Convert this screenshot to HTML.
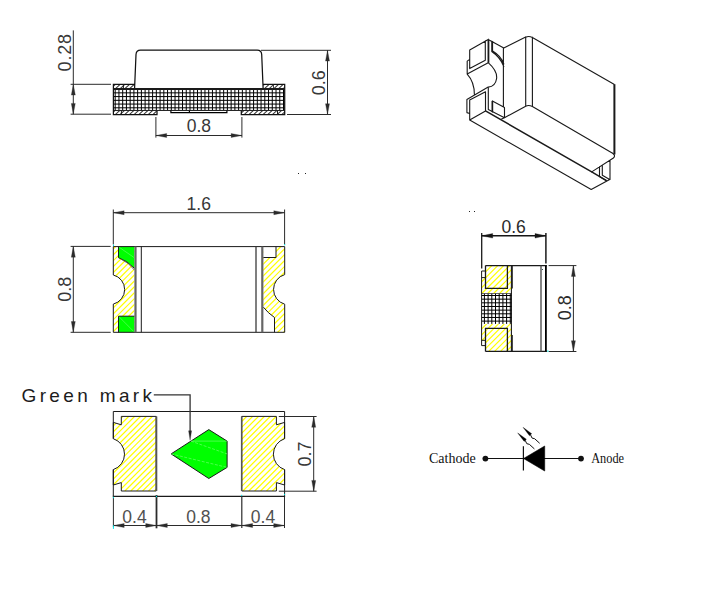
<!DOCTYPE html>
<html><head><meta charset="utf-8"><title>LED package drawing</title>
<style>
html,body{margin:0;padding:0;background:#fff;}
body{width:707px;height:594px;overflow:hidden;font-family:"Liberation Sans",sans-serif;}
svg{display:block}
</style></head><body>
<svg width="707" height="594" viewBox="0 0 707 594">
<rect width="707" height="594" fill="#fff"/>
<clipPath id="c1"><rect x="113.4" y="88.5" width="171.0" height="21.9"/></clipPath>
<path clip-path="url(#c1)" d="M115.20,88.5 L115.20,110.4 M118.94,88.5 L118.94,110.4 M122.68,88.5 L122.68,110.4 M126.42,88.5 L126.42,110.4 M130.16,88.5 L130.16,110.4 M133.90,88.5 L133.90,110.4 M137.64,88.5 L137.64,110.4 M141.38,88.5 L141.38,110.4 M145.12,88.5 L145.12,110.4 M148.86,88.5 L148.86,110.4 M152.60,88.5 L152.60,110.4 M156.34,88.5 L156.34,110.4 M160.08,88.5 L160.08,110.4 M163.82,88.5 L163.82,110.4 M167.56,88.5 L167.56,110.4 M171.30,88.5 L171.30,110.4 M175.04,88.5 L175.04,110.4 M178.78,88.5 L178.78,110.4 M182.52,88.5 L182.52,110.4 M186.26,88.5 L186.26,110.4 M190.00,88.5 L190.00,110.4 M193.74,88.5 L193.74,110.4 M197.48,88.5 L197.48,110.4 M201.22,88.5 L201.22,110.4 M204.96,88.5 L204.96,110.4 M208.70,88.5 L208.70,110.4 M212.44,88.5 L212.44,110.4 M216.18,88.5 L216.18,110.4 M219.92,88.5 L219.92,110.4 M223.66,88.5 L223.66,110.4 M227.40,88.5 L227.40,110.4 M231.14,88.5 L231.14,110.4 M234.88,88.5 L234.88,110.4 M238.62,88.5 L238.62,110.4 M242.36,88.5 L242.36,110.4 M246.10,88.5 L246.10,110.4 M249.84,88.5 L249.84,110.4 M253.58,88.5 L253.58,110.4 M257.32,88.5 L257.32,110.4 M261.06,88.5 L261.06,110.4 M264.80,88.5 L264.80,110.4 M268.54,88.5 L268.54,110.4 M272.28,88.5 L272.28,110.4 M276.02,88.5 L276.02,110.4 M279.76,88.5 L279.76,110.4 M283.50,88.5 L283.50,110.4 M113.4,92.85 L284.4,92.85 M113.4,96.59 L284.4,96.59 M113.4,100.33 L284.4,100.33 M113.4,104.07 L284.4,104.07 M113.4,107.81 L284.4,107.81" stroke="#000" stroke-width="1.0" fill="none"/>
<clipPath id="c2"><rect x="113.4" y="84.4" width="21.2" height="4.0"/></clipPath>
<path clip-path="url(#c2)" d="M105.80,88.90 L111.30,83.90 M110.50,88.90 L116.00,83.90 M115.20,88.90 L120.70,83.90 M119.90,88.90 L125.40,83.90 M124.60,88.90 L130.10,83.90 M129.30,88.90 L134.80,83.90 M134.00,88.90 L139.50,83.90 M138.70,88.90 L144.20,83.90" stroke="#3a3a3a" stroke-width="1.05" fill="none"/>
<clipPath id="c3"><rect x="263.4" y="84.4" width="21.5" height="4.0"/></clipPath>
<path clip-path="url(#c3)" d="M254.80,88.90 L260.30,83.90 M259.50,88.90 L265.00,83.90 M264.20,88.90 L269.70,83.90 M268.90,88.90 L274.40,83.90 M273.60,88.90 L279.10,83.90 M278.30,88.90 L283.80,83.90 M283.00,88.90 L288.50,83.90 M287.70,88.90 L293.20,83.90" stroke="#3a3a3a" stroke-width="1.05" fill="none"/>
<clipPath id="c4"><rect x="113.4" y="110.6" width="43.5" height="4.0"/></clipPath>
<path clip-path="url(#c4)" d="M105.30,115.10 L110.80,110.10 M110.00,115.10 L115.50,110.10 M114.70,115.10 L120.20,110.10 M119.40,115.10 L124.90,110.10 M124.10,115.10 L129.60,110.10 M128.80,115.10 L134.30,110.10 M133.50,115.10 L139.00,110.10 M138.20,115.10 L143.70,110.10 M142.90,115.10 L148.40,110.10 M147.60,115.10 L153.10,110.10 M152.30,115.10 L157.80,110.10 M157.00,115.10 L162.50,110.10" stroke="#3a3a3a" stroke-width="1.05" fill="none"/>
<clipPath id="c5"><rect x="241.3" y="110.6" width="43.6" height="4.0"/></clipPath>
<path clip-path="url(#c5)" d="M234.20,115.10 L239.70,110.10 M238.90,115.10 L244.40,110.10 M243.60,115.10 L249.10,110.10 M248.30,115.10 L253.80,110.10 M253.00,115.10 L258.50,110.10 M257.70,115.10 L263.20,110.10 M262.40,115.10 L267.90,110.10 M267.10,115.10 L272.60,110.10 M271.80,115.10 L277.30,110.10 M276.50,115.10 L282.00,110.10 M281.20,115.10 L286.70,110.10 M285.90,115.10 L291.40,110.10" stroke="#3a3a3a" stroke-width="1.05" fill="none"/>
<path d="M135,84.3 L113.4,84.3 L113.4,114.5 L157,114.5 L157,110.4" fill="none" stroke="#111" stroke-width="1.25" />
<path d="M263,84.3 L284.7,84.3 L284.7,114.5 L241.3,114.5 L241.3,110.4" fill="none" stroke="#111" stroke-width="1.25" />
<line x1="113.4" y1="89.0" x2="284.9" y2="89.0" stroke="#1a1a1a" stroke-width="1.8" />
<line x1="113.4" y1="110.45" x2="284.9" y2="110.45" stroke="#1a1a1a" stroke-width="1.0" />
<line x1="121.4" y1="110.4" x2="121.4" y2="114.5" stroke="#1a1a1a" stroke-width="1.0" />
<line x1="277.5" y1="110.4" x2="277.5" y2="114.5" stroke="#1a1a1a" stroke-width="1.0" />
<line x1="123.4" y1="84.3" x2="123.4" y2="88.5" stroke="#1a1a1a" stroke-width="1.0" />
<line x1="273.5" y1="84.3" x2="273.5" y2="88.5" stroke="#1a1a1a" stroke-width="0.8" />
<path d="M170.9,110.6 L170.9,112.6 L226.9,112.6 L226.9,110.6 M189.4,110.8 L189.4,112.6" fill="none" stroke="#000" stroke-width="1.2" />
<path d="M134.6,88 L136,54.5 Q136.3,50.2 140.5,50.2 L257.2,50.2 Q261.4,50.2 261.7,54.5 L263.1,88" fill="none" stroke="#111" stroke-width="1.25" />
<line x1="261" y1="50.3" x2="331" y2="50.3" stroke="#2b2b2b" stroke-width="1.0" />
<line x1="287" y1="114.5" x2="331" y2="114.5" stroke="#2b2b2b" stroke-width="1.0" />
<line x1="327.5" y1="50.3" x2="327.5" y2="114.5" stroke="#2b2b2b" stroke-width="1.0" />
<polygon points="327.50,50.30 329.50,61.10 325.50,61.10" fill="#2b2b2b" stroke="#2b2b2b" stroke-width="0.3"/>
<polygon points="327.50,114.50 325.50,103.70 329.50,103.70" fill="#2b2b2b" stroke="#2b2b2b" stroke-width="0.3"/>
<text transform="translate(324.5,95.3) rotate(-90)" x="0" y="0" font-family="'Liberation Sans', sans-serif" font-size="18" fill="#383838">0.6</text>
<line x1="70.6" y1="84.3" x2="111" y2="84.3" stroke="#2b2b2b" stroke-width="1.0" />
<line x1="70.6" y1="114.2" x2="111" y2="114.2" stroke="#2b2b2b" stroke-width="1.0" />
<line x1="73.3" y1="30.4" x2="73.3" y2="114.2" stroke="#2b2b2b" stroke-width="1.0" />
<polygon points="73.30,84.30 75.30,95.10 71.30,95.10" fill="#2b2b2b" stroke="#2b2b2b" stroke-width="0.3"/>
<polygon points="73.30,114.20 71.30,103.40 75.30,103.40" fill="#2b2b2b" stroke="#2b2b2b" stroke-width="0.3"/>
<text transform="translate(71.3,71.4) rotate(-90)" x="0" y="0" font-family="'Liberation Sans', sans-serif" font-size="18" fill="#383838" textLength="37.5" lengthAdjust="spacing">0.28</text>
<line x1="155.9" y1="117" x2="155.9" y2="137.6" stroke="#2b2b2b" stroke-width="1.0" />
<line x1="241.9" y1="117" x2="241.9" y2="137.6" stroke="#2b2b2b" stroke-width="1.0" />
<line x1="155.9" y1="135.5" x2="241.9" y2="135.5" stroke="#2b2b2b" stroke-width="1.0" />
<polygon points="155.90,135.50 166.70,133.50 166.70,137.50" fill="#2b2b2b" stroke="#2b2b2b" stroke-width="0.3"/>
<polygon points="241.90,135.50 231.10,137.50 231.10,133.50" fill="#2b2b2b" stroke="#2b2b2b" stroke-width="0.3"/>
<text x="186.7" y="132.0" font-family="'Liberation Sans', sans-serif" font-size="17.5" fill="#383838">0.8</text>
<clipPath id="c6"><path d="M113.3,246.6 L134.4,246.6 L134.4,332.3 L113.3,332.3 L113.3,304.1 A15,15 0 0 0 113.3,275 Z"/></clipPath>
<path clip-path="url(#c6)" d="M23.30,333.00 L110.30,246.00 M29.20,333.00 L116.20,246.00 M35.10,333.00 L122.10,246.00 M41.00,333.00 L128.00,246.00 M46.90,333.00 L133.90,246.00 M52.80,333.00 L139.80,246.00 M58.70,333.00 L145.70,246.00 M64.60,333.00 L151.60,246.00 M70.50,333.00 L157.50,246.00 M76.40,333.00 L163.40,246.00 M82.30,333.00 L169.30,246.00 M88.20,333.00 L175.20,246.00 M94.10,333.00 L181.10,246.00 M100.00,333.00 L187.00,246.00 M105.90,333.00 L192.90,246.00 M111.80,333.00 L198.80,246.00 M117.70,333.00 L204.70,246.00 M123.60,333.00 L210.60,246.00 M129.50,333.00 L216.50,246.00 M135.40,333.00 L222.40,246.00" stroke="#ffff00" stroke-width="1.22" fill="none"/>
<path d="M118.5,246.6 L134.4,246.6 L134.4,268.3 Q127,260.5 118.5,257.7 Z" fill="#00ff00" stroke="none" stroke-width="0" />
<path d="M118.5,316.2 L134.4,316.2 L134.4,332.3 L118.5,332.3 Z" fill="#00ff00" stroke="none" stroke-width="0" />
<path d="M119,247.1 L134,257.5 M119,316.7 L134,331.8" fill="none" stroke="#6dff6d" stroke-width="0.6" />
<path d="M118.5,246.6 L118.5,257.7 Q127,260.5 134.4,268.3" fill="none" stroke="#1a1a1a" stroke-width="1.0" />
<path d="M121.5,259.4 Q128.5,262.5 134.4,270" fill="none" stroke="#555" stroke-width="0.8" />
<path d="M118.5,332.3 L118.5,316.2 L134.4,316.2" fill="none" stroke="#1a1a1a" stroke-width="1.0" />
<clipPath id="c7"><path d="M263.3,246.6 L284.7,246.6 L284.7,274.6 A15.4,15.4 0 0 0 284.7,304.2 L284.7,332.3 L274.5,332.3 L274.5,317.5 Q268,313 263.3,307.1 Z"/></clipPath>
<path clip-path="url(#c7)" d="M170.80,333.00 L257.80,246.00 M176.70,333.00 L263.70,246.00 M182.60,333.00 L269.60,246.00 M188.50,333.00 L275.50,246.00 M194.40,333.00 L281.40,246.00 M200.30,333.00 L287.30,246.00 M206.20,333.00 L293.20,246.00 M212.10,333.00 L299.10,246.00 M218.00,333.00 L305.00,246.00 M223.90,333.00 L310.90,246.00 M229.80,333.00 L316.80,246.00 M235.70,333.00 L322.70,246.00 M241.60,333.00 L328.60,246.00 M247.50,333.00 L334.50,246.00 M253.40,333.00 L340.40,246.00 M259.30,333.00 L346.30,246.00 M265.20,333.00 L352.20,246.00 M271.10,333.00 L358.10,246.00 M277.00,333.00 L364.00,246.00 M282.90,333.00 L369.90,246.00 M288.80,333.00 L375.80,246.00" stroke="#ffff00" stroke-width="1.22" fill="none"/>
<rect x="263.3" y="246.6" width="12.7" height="10.9" fill="#fff"/>
<path d="M263.3,257.5 L276,257.5 L276,246.6" fill="none" stroke="#1a1a1a" stroke-width="1.0" />
<path d="M263.3,307.1 Q268,313 274.5,317.5 L274.5,332.3" fill="none" stroke="#1a1a1a" stroke-width="1.0" />
<path d="M113.3,275 L113.3,246.6 L284.7,246.6 L284.7,274.6 A15.4,15.4 0 0 0 284.7,304.2 L284.7,332.3 L113.3,332.3 L113.3,304.1 A15,15 0 0 0 113.3,275" fill="none" stroke="#1a1a1a" stroke-width="1.0" />
<line x1="135.5" y1="246.6" x2="135.5" y2="332.3" stroke="#666" stroke-width="2.2" />
<line x1="141.3" y1="246.6" x2="141.3" y2="332.3" stroke="#1a1a1a" stroke-width="1.0" />
<line x1="256" y1="246.6" x2="256" y2="332.3" stroke="#333" stroke-width="1.25" />
<line x1="262.3" y1="246.6" x2="262.3" y2="332.3" stroke="#666" stroke-width="2.2" />
<line x1="70.6" y1="246.4" x2="110.7" y2="246.4" stroke="#2b2b2b" stroke-width="1.0" />
<line x1="70.6" y1="332.3" x2="110.7" y2="332.3" stroke="#2b2b2b" stroke-width="1.0" />
<line x1="73.3" y1="246.4" x2="73.3" y2="332.3" stroke="#2b2b2b" stroke-width="1.0" />
<polygon points="73.30,246.40 75.30,257.20 71.30,257.20" fill="#2b2b2b" stroke="#2b2b2b" stroke-width="0.3"/>
<polygon points="73.30,332.30 71.30,321.50 75.30,321.50" fill="#2b2b2b" stroke="#2b2b2b" stroke-width="0.3"/>
<text transform="translate(71.0,301.7) rotate(-90)" x="0" y="0" font-family="'Liberation Sans', sans-serif" font-size="18" fill="#383838">0.8</text>
<line x1="113.3" y1="209.5" x2="113.3" y2="244.5" stroke="#2b2b2b" stroke-width="1.0" />
<line x1="284.6" y1="209.5" x2="284.6" y2="244.5" stroke="#2b2b2b" stroke-width="1.0" />
<line x1="113.3" y1="212.7" x2="284.6" y2="212.7" stroke="#2b2b2b" stroke-width="1.0" />
<polygon points="113.30,212.70 124.10,210.70 124.10,214.70" fill="#2b2b2b" stroke="#2b2b2b" stroke-width="0.3"/>
<polygon points="284.60,212.70 273.80,214.70 273.80,210.70" fill="#2b2b2b" stroke="#2b2b2b" stroke-width="0.3"/>
<text x="186.6" y="209.8" font-family="'Liberation Sans', sans-serif" font-size="17.5" fill="#383838">1.6</text>
<clipPath id="c8"><path d="M121.3,416.4 L156.2,416.4 L156.2,491.0 L121.3,491.0 L121.3,482.6 L113.3,485 L113.3,469.6 A16.25,16.25 0 0 0 113.3,438.7 L113.3,422.4 L121.3,424.8 Z"/></clipPath>
<path clip-path="url(#c8)" d="M36.40,491.00 L111.40,416.00 M42.30,491.00 L117.30,416.00 M48.20,491.00 L123.20,416.00 M54.10,491.00 L129.10,416.00 M60.00,491.00 L135.00,416.00 M65.90,491.00 L140.90,416.00 M71.80,491.00 L146.80,416.00 M77.70,491.00 L152.70,416.00 M83.60,491.00 L158.60,416.00 M89.50,491.00 L164.50,416.00 M95.40,491.00 L170.40,416.00 M101.30,491.00 L176.30,416.00 M107.20,491.00 L182.20,416.00 M113.10,491.00 L188.10,416.00 M119.00,491.00 L194.00,416.00 M124.90,491.00 L199.90,416.00 M130.80,491.00 L205.80,416.00 M136.70,491.00 L211.70,416.00 M142.60,491.00 L217.60,416.00 M148.50,491.00 L223.50,416.00 M154.40,491.00 L229.40,416.00 M160.30,491.00 L235.30,416.00" stroke="#ffff00" stroke-width="1.22" fill="none"/>
<path d="M121.3,416.4 L156.2,416.4 L156.2,491.0 L121.3,491.0 L121.3,482.6 L113.3,485 L113.3,469.6 A16.25,16.25 0 0 0 113.3,438.7 L113.3,422.4 L121.3,424.8 Z" fill="none" stroke="#1a1a1a" stroke-width="1.0" />
<clipPath id="c9"><path d="M276.4,416.4 L241.8,416.4 L241.8,491.0 L276.4,491.0 L276.4,482.6 L284.6,485 L284.6,469.6 A16.25,16.25 0 0 1 284.6,438.7 L284.6,422.4 L276.4,424.8 Z"/></clipPath>
<path clip-path="url(#c9)" d="M160.30,491.00 L235.30,416.00 M166.20,491.00 L241.20,416.00 M172.10,491.00 L247.10,416.00 M178.00,491.00 L253.00,416.00 M183.90,491.00 L258.90,416.00 M189.80,491.00 L264.80,416.00 M195.70,491.00 L270.70,416.00 M201.60,491.00 L276.60,416.00 M207.50,491.00 L282.50,416.00 M213.40,491.00 L288.40,416.00 M219.30,491.00 L294.30,416.00 M225.20,491.00 L300.20,416.00 M231.10,491.00 L306.10,416.00 M237.00,491.00 L312.00,416.00 M242.90,491.00 L317.90,416.00 M248.80,491.00 L323.80,416.00 M254.70,491.00 L329.70,416.00 M260.60,491.00 L335.60,416.00 M266.50,491.00 L341.50,416.00 M272.40,491.00 L347.40,416.00 M278.30,491.00 L353.30,416.00 M284.20,491.00 L359.20,416.00 M290.10,491.00 L365.10,416.00" stroke="#ffff00" stroke-width="1.22" fill="none"/>
<path d="M276.4,416.4 L241.8,416.4 L241.8,491.0 L276.4,491.0 L276.4,482.6 L284.6,485 L284.6,469.6 A16.25,16.25 0 0 1 284.6,438.7 L284.6,422.4 L276.4,424.8 Z" fill="none" stroke="#1a1a1a" stroke-width="1.0" />
<line x1="156.4" y1="416.4" x2="156.4" y2="491.0" stroke="#555" stroke-width="1.8" />
<line x1="241.6" y1="416.4" x2="241.6" y2="491.0" stroke="#555" stroke-width="1.4" />
<path d="M113.3,438.7 L113.3,411.5 L284.6,411.5 L284.6,438.7 M284.6,469.6 L284.6,496.4 M113.3,469.6 L113.3,496.4" fill="none" stroke="#1a1a1a" stroke-width="1.0" />
<line x1="112.8" y1="496.4" x2="285.1" y2="496.4" stroke="#1a1a1a" stroke-width="1.3" />
<path d="M171.1,453.9 L208.8,429.6 L227.1,441.1 L227.1,467.4 L208.8,478.5 Z" fill="#00ff00" stroke="#1a1a1a" stroke-width="1.0" />
<path d="M190.9,441.1 L227.1,441.1" fill="none" stroke="#7dff7d" stroke-width="0.6" />
<path d="M190.9,441.1 L227.1,453.9 M171.1,453.9 L227.1,467.4" fill="none" stroke="#7dff7d" stroke-width="0.6" stroke-dasharray="3 1.5"/>
<path d="M153.8,394.9 L190.1,394.9 L190.1,432" fill="none" stroke="#333" stroke-width="1.3" />
<polygon points="190.10,440.30 188.60,430.80 191.60,430.80" fill="#222" stroke="#222" stroke-width="0.3"/>
<line x1="113.4" y1="497" x2="113.4" y2="527" stroke="#2b2b2b" stroke-width="1.0" />
<line x1="156.5" y1="495" x2="156.5" y2="528.3" stroke="#2b2b2b" stroke-width="1.8" />
<line x1="241.8" y1="497" x2="241.8" y2="528" stroke="#2b2b2b" stroke-width="1.2" />
<line x1="284.5" y1="497" x2="284.5" y2="528" stroke="#2b2b2b" stroke-width="1.0" />
<line x1="113.4" y1="525.5" x2="156.5" y2="525.5" stroke="#2b2b2b" stroke-width="1.0" />
<polygon points="113.40,525.50 124.20,523.50 124.20,527.50" fill="#2b2b2b" stroke="#2b2b2b" stroke-width="0.3"/>
<polygon points="156.50,525.50 145.70,527.50 145.70,523.50" fill="#2b2b2b" stroke="#2b2b2b" stroke-width="0.3"/>
<line x1="156.5" y1="525.5" x2="241.8" y2="525.5" stroke="#2b2b2b" stroke-width="1.0" />
<polygon points="156.50,525.50 167.30,523.50 167.30,527.50" fill="#2b2b2b" stroke="#2b2b2b" stroke-width="0.3"/>
<polygon points="241.80,525.50 231.00,527.50 231.00,523.50" fill="#2b2b2b" stroke="#2b2b2b" stroke-width="0.3"/>
<line x1="241.8" y1="525.5" x2="284.5" y2="525.5" stroke="#2b2b2b" stroke-width="1.0" />
<polygon points="241.80,525.50 252.60,523.50 252.60,527.50" fill="#2b2b2b" stroke="#2b2b2b" stroke-width="0.3"/>
<polygon points="284.50,525.50 273.70,527.50 273.70,523.50" fill="#2b2b2b" stroke="#2b2b2b" stroke-width="0.3"/>
<text x="122.3" y="523.1" font-family="'Liberation Sans', sans-serif" font-size="17.5" fill="#505050">0.4</text>
<text x="186.2" y="523.1" font-family="'Liberation Sans', sans-serif" font-size="17.5" fill="#505050">0.8</text>
<text x="250.8" y="523.1" font-family="'Liberation Sans', sans-serif" font-size="17.5" fill="#505050">0.4</text>
<line x1="278.8" y1="416.5" x2="316.6" y2="416.5" stroke="#2b2b2b" stroke-width="1.0" />
<line x1="278.8" y1="491.2" x2="316.6" y2="491.2" stroke="#2b2b2b" stroke-width="1.0" />
<line x1="313.7" y1="416.5" x2="313.7" y2="491.2" stroke="#2b2b2b" stroke-width="1.0" />
<polygon points="313.70,416.50 315.70,427.30 311.70,427.30" fill="#2b2b2b" stroke="#2b2b2b" stroke-width="0.3"/>
<polygon points="313.70,491.20 311.70,480.40 315.70,480.40" fill="#2b2b2b" stroke="#2b2b2b" stroke-width="0.3"/>
<text transform="translate(310.8,466.4) rotate(-90)" x="0" y="0" font-family="'Liberation Sans', sans-serif" font-size="18" fill="#383838">0.7</text>
<rect x="112.9" y="496.8" width="1" height="1.4" fill="#00e5e5"/>
<rect x="156.0" y="495.8" width="1" height="1.4" fill="#00e5e5"/>
<rect x="241.2" y="494.8" width="1" height="1.4" fill="#00e5e5"/>
<rect x="284.0" y="493.8" width="1" height="1.4" fill="#00e5e5"/>
<rect x="112.9" y="525.3" width="1" height="3.6" fill="#00e5e5"/>
<rect x="113" y="244.6" width="1" height="1.4" fill="#00e5e5"/>
<rect x="284.2" y="244" width="1" height="1.4" fill="#00e5e5"/>
<text x="21.5" y="401.5" font-family="'Liberation Sans', sans-serif" font-size="19" fill="#1c1c1c" textLength="130.5" lengthAdjust="spacing">Green mark</text>
<clipPath id="c10"><path d="M481.6,265.4 L512,265.4 L512,293.2 L481.6,293.2 Z"/></clipPath>
<path clip-path="url(#c10)" d="M452.50,293.20 L480.30,265.40 M458.40,293.20 L486.20,265.40 M464.30,293.20 L492.10,265.40 M470.20,293.20 L498.00,265.40 M476.10,293.20 L503.90,265.40 M482.00,293.20 L509.80,265.40 M487.90,293.20 L515.70,265.40 M493.80,293.20 L521.60,265.40 M499.70,293.20 L527.50,265.40 M505.60,293.20 L533.40,265.40 M511.50,293.20 L539.30,265.40 M517.40,293.20 L545.20,265.40" stroke="#ffff00" stroke-width="1.22" fill="none"/>
<clipPath id="c11"><path d="M481.6,323.9 L512,323.9 L512,351.4 L481.6,351.4 Z"/></clipPath>
<path clip-path="url(#c11)" d="M453.30,351.40 L480.80,323.90 M459.20,351.40 L486.70,323.90 M465.10,351.40 L492.60,323.90 M471.00,351.40 L498.50,323.90 M476.90,351.40 L504.40,323.90 M482.80,351.40 L510.30,323.90 M488.70,351.40 L516.20,323.90 M494.60,351.40 L522.10,323.90 M500.50,351.40 L528.00,323.90 M506.40,351.40 L533.90,323.90 M512.30,351.40 L539.80,323.90" stroke="#ffff00" stroke-width="1.22" fill="none"/>
<rect x="480" y="264.4" width="5.5" height="6.600000000000023" fill="#fff"/>
<rect x="481.6" y="271" width="3.9" height="6.6" fill="#fff"/>
<rect x="480" y="345.6" width="5.5" height="6.7999999999999545" fill="#fff"/>
<rect x="481.6" y="340.3" width="3.9" height="5.3" fill="#fff"/>
<clipPath id="c12"><rect x="481.6" y="293.2" width="30.4" height="30.7"/></clipPath>
<path clip-path="url(#c12)" d="M484.40,293.2 L484.40,323.9 M488.10,293.2 L488.10,323.9 M491.80,293.2 L491.80,323.9 M495.50,293.2 L495.50,323.9 M499.20,293.2 L499.20,323.9 M502.90,293.2 L502.90,323.9 M506.60,293.2 L506.60,323.9 M510.30,293.2 L510.30,323.9 M481.6,295.50 L512.0,295.50 M481.6,299.16 L512.0,299.16 M481.6,302.82 L512.0,302.82 M481.6,306.48 L512.0,306.48 M481.6,310.14 L512.0,310.14 M481.6,313.80 L512.0,313.80 M481.6,317.46 L512.0,317.46 M481.6,321.12 L512.0,321.12" stroke="#000" stroke-width="1.0" fill="none"/>
<line x1="481.6" y1="293.5" x2="512" y2="293.5" stroke="#444" stroke-width="0.8" />
<path d="M485.5,265.59999999999997 L546.9,265.59999999999997 M485.5,351.4 L546.9,351.4" fill="none" stroke="#1a1a1a" stroke-width="1.3" />
<path d="M485.5,265.4 L485.5,288.4 L507.4,288.4 L507.4,265.4" fill="none" stroke="#1a1a1a" stroke-width="1.3" />
<path d="M485.5,351.4 L485.5,328.4 L507.4,328.4 L507.4,351.4" fill="none" stroke="#1a1a1a" stroke-width="1.3" />
<path d="M485.5,271 L481.6,271 L481.6,345.6 L485.5,345.6 M481.6,277.6 L485.5,277.6 M481.6,340.3 L485.5,340.3" fill="none" stroke="#1a1a1a" stroke-width="1.0" />
<line x1="511.4" y1="265.4" x2="511.4" y2="351.4" stroke="#1a1a1a" stroke-width="1.1" />
<line x1="512.2" y1="265.4" x2="512.2" y2="288.4" stroke="#1a1a1a" stroke-width="1.2" />
<line x1="512.2" y1="335" x2="512.2" y2="351.4" stroke="#1a1a1a" stroke-width="1.2" />
<line x1="541.0" y1="265.4" x2="541.0" y2="351.4" stroke="#444" stroke-width="1.3" />
<line x1="545.9" y1="265.4" x2="545.9" y2="351.4" stroke="#000" stroke-width="1.8" />
<rect x="542" y="269" width="1" height="1" fill="#355"/>
<line x1="481.7" y1="232.9" x2="481.7" y2="268.5" stroke="#1a1a1a" stroke-width="1.3" />
<line x1="545.9" y1="232.9" x2="545.9" y2="263.5" stroke="#1a1a1a" stroke-width="1.5" />
<line x1="481.7" y1="235.8" x2="546" y2="235.8" stroke="#151515" stroke-width="1.4" />
<polygon points="481.70,235.80 492.70,233.50 492.70,238.10" fill="#151515" stroke="#151515" stroke-width="0.3"/>
<polygon points="546.00,235.80 535.00,238.10 535.00,233.50" fill="#151515" stroke="#151515" stroke-width="0.3"/>
<text x="501.5" y="233.3" font-family="'Liberation Sans', sans-serif" font-size="17.5" fill="#2a2a2a">0.6</text>
<line x1="548.6" y1="265.6" x2="576.4" y2="265.6" stroke="#2b2b2b" stroke-width="1.0" />
<line x1="548.6" y1="351.5" x2="576.4" y2="351.5" stroke="#2b2b2b" stroke-width="1.0" />
<line x1="573.4" y1="265.6" x2="573.4" y2="351.5" stroke="#2b2b2b" stroke-width="1.0" />
<polygon points="573.40,265.60 575.40,276.40 571.40,276.40" fill="#2b2b2b" stroke="#2b2b2b" stroke-width="0.3"/>
<polygon points="573.40,351.50 571.40,340.70 575.40,340.70" fill="#2b2b2b" stroke="#2b2b2b" stroke-width="0.3"/>
<text transform="translate(570.5,320.2) rotate(-90)" x="0" y="0" font-family="'Liberation Sans', sans-serif" font-size="18" fill="#2a2a2a">0.8</text>
<rect x="547" y="350.6" width="1.6" height="1" fill="#00e5e5"/>
<line x1="485.4" y1="458.5" x2="581" y2="458.5" stroke="#111" stroke-width="1.2" />
<circle cx="485.4" cy="458.6" r="2.9" fill="#111"/>
<circle cx="581" cy="458.6" r="2.9" fill="#111"/>
<line x1="523.4" y1="446.3" x2="523.4" y2="470.6" stroke="#111" stroke-width="1.2" />
<polygon points="523.6,458.5 544.7,446 544.7,471" fill="#000" stroke="#000" stroke-width="0.6"/>
<polygon points="517.7,432.9 526.4000000000001,439.29999999999995 524.2,441.4" fill="#000" stroke="#000" stroke-width="0.3"/>
<path d="M525.1,440.2 L526.8000000000001,443.7 L529.3000000000001,444.29999999999995 L534.4000000000001,448.9" fill="none" stroke="#111" stroke-width="1.0" stroke-linejoin="round"/>
<polygon points="523.0,427.3 531.7,433.7 529.5,435.8" fill="#000" stroke="#000" stroke-width="0.3"/>
<path d="M530.4,434.6 L532.1,438.1 L534.6,438.7 L539.7,443.3" fill="none" stroke="#111" stroke-width="1.0" stroke-linejoin="round"/>
<text x="429" y="462.7" font-family="'Liberation Serif', serif" font-size="14" fill="#111" textLength="46.7" lengthAdjust="spacingAndGlyphs">Cathode</text>
<text x="591.2" y="462.7" font-family="'Liberation Serif', serif" font-size="14" fill="#111" textLength="32.9" lengthAdjust="spacingAndGlyphs">Anode</text>
<rect x="298" y="173" width="1" height="1" fill="#222"/>
<rect x="305" y="173" width="1" height="1" fill="#222"/>
<rect x="469" y="211" width="1" height="1" fill="#222"/>
<rect x="474" y="211" width="1" height="1" fill="#222"/>
<path d="M488.2,39.4 L469.7,50.1 L469.7,68.6 M469.7,59.4 L467.2,61.1 L467.2,74.1 L488.2,62.7 M469.7,68.6 L485.3,60.2 L485.3,40.8 M488.2,39.4 L488.2,62.7 M488.2,39.4 L503.8,48 L525.7,36.9 M503.4,48 L503.4,106.5 M492,41.3 L492,51.8 M492,51.8 Q500,57 503.8,66.5 M493,51.3 Q501,56 503.8,64 M488.2,62.7 Q497.5,71 496.6,78.5 Q495.5,86.5 488.2,87.1 M467.2,74.1 Q474.5,82 474.4,95 M488.2,87.1 L466.9,99.6 L466.9,112.6 L469.7,113.5 M469.7,120 L469.7,100.1 L485.5,91.8 L485.5,110.9 M488.3,87.1 L488.3,109.4 M485.5,110.9 L469.7,120 L591.2,189.5 L609.7,179.4 M492.4,112.1 L492.4,100.9 L504.5,107.4 L504.5,117.7 M488.3,109.4 L504.5,117.7 L525.7,106.2 M501.6,118.9 L504.5,117.7 M525.7,37.3 Q528.5,35.6 532.4,37.4 M525.7,37.3 L525.7,106.2 M532.4,37.4 L532.4,106.4 M532.4,37.4 L614,84.2 M525.7,106.2 Q528.5,104.6 532.4,106.4 M532.4,106.4 L612.6,153.2 M612.6,153.2 Q616,155.6 613.4,158 M613.4,158 L591.7,171.9 M610,160.6 L610,179.4 M599.5,166.9 L599.5,176.6 L606.5,180.7 M602.3,165.5 L602.3,175.2 L609.7,179.4" fill="none" stroke="#1a1a1a" stroke-width="1.12" stroke-linejoin="round" stroke-linecap="round"/>
<path d="M485.5,110.9 L591.7,171.9 L606.5,180.7" fill="none" stroke="#1a1a1a" stroke-width="1.5" />
<path d="M614.4,84.2 L614.4,154.5" fill="none" stroke="#1a1a1a" stroke-width="2.0" />
<path d="M492.3,41.3 L492.3,51.8 M492.4,100.9 L492.4,112.1" fill="none" stroke="#1a1a1a" stroke-width="1.6" />
<path d="M488.6,40 L488.6,62.7" fill="none" stroke="#1a1a1a" stroke-width="1.5" />
</svg>
</body></html>
